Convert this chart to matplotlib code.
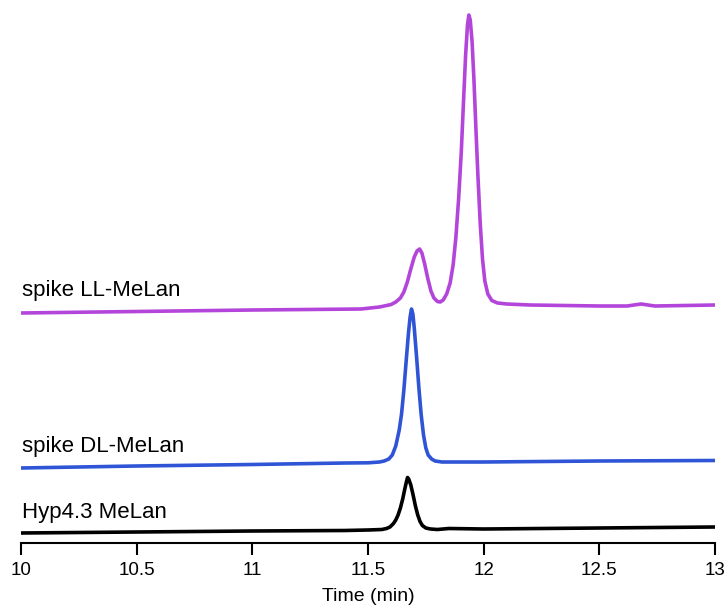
import matplotlib.pyplot as plt

plt.rcParams['font.family'] = ['Liberation Sans', 'DejaVu Sans']

# Hyp4.3 MeLan trace (time in min, detector signal in a.u.)
hyp_time = [10.0, 10.5, 11.0, 11.4, 11.5, 11.56, 11.58, 11.595, 11.61, 11.62,
            11.63, 11.64, 11.65, 11.66, 11.667, 11.671, 11.676, 11.685, 11.695,
            11.705, 11.715, 11.725, 11.735, 11.75, 11.77, 11.8, 11.85, 12.0,
            12.5, 13.0]
hyp_signal = [10, 11, 12, 12.5, 13, 13.5, 14.5, 16, 19.5, 23,
              28, 35, 44, 55, 62, 65.5, 64, 58, 48,
              37, 28, 21.5, 17.5, 15, 14, 13.5, 14.5, 14,
              15, 16]

# spike DL-MeLan trace
dl_time = [10.0, 10.5, 11.0, 11.4, 11.5, 11.55, 11.57, 11.59, 11.605, 11.62,
           11.635, 11.645, 11.655, 11.665, 11.675, 11.682, 11.688, 11.694,
           11.70, 11.71, 11.72, 11.73, 11.74, 11.75, 11.76, 11.775, 11.79,
           11.82, 11.9, 12.0, 12.5, 13.0]
dl_signal = [10, 12, 13.5, 15, 15.2, 16, 17, 19, 23, 32,
             48, 64, 88, 117, 145, 161, 169, 164,
             150, 121, 90, 63, 43, 30, 23, 19, 17,
             16, 16, 16, 17, 17.5]

# spike LL-MeLan trace
ll_time = [10.0, 10.5, 11.0, 11.47, 11.55, 11.6, 11.62, 11.64, 11.655, 11.67,
           11.685, 11.70, 11.712, 11.723, 11.733, 11.745, 11.758, 11.772,
           11.785, 11.80, 11.812, 11.825, 11.84, 11.855, 11.868, 11.88, 11.892,
           11.903, 11.913, 11.922, 11.93, 11.936, 11.942, 11.95, 11.958, 11.966,
           11.975, 11.985, 11.995, 12.005, 12.018, 12.035, 12.06, 12.1, 12.2,
           12.5, 12.62, 12.68, 12.74, 13.0]
ll_signal = [10, 11.5, 13, 14, 16, 18.5, 21, 25, 31, 41,
             54, 66, 72, 74, 70, 59, 45, 32,
             25, 21.5, 21, 23, 29, 40, 58, 86, 125,
             170, 222, 268, 298, 308, 303, 281, 243, 197,
             148, 100, 64, 42, 29, 22.5, 20, 19, 18,
             17, 17, 19, 17, 18]

# vertical stacking of the traces
offsets = {'hyp': 0, 'dl': 65, 'll': 220}

fig = plt.figure(figsize=(7.28, 6.11), dpi=100)
ax = fig.add_axes([21 / 728, 68 / 611, 694 / 728, 538 / 611])

line_kw = dict(lw=2.6, solid_joinstyle='round', solid_capstyle='round')
ax.plot(hyp_time, [v + offsets['hyp'] for v in hyp_signal], color='black', **line_kw)
ax.plot(dl_time, [v + offsets['dl'] for v in dl_signal], color='#2F55D6', **line_kw)
ax.plot(ll_time, [v + offsets['ll'] for v in ll_signal], color='#B445DA', **line_kw)

ax.text(10.005, 25, 'Hyp4.3 MeLan', fontsize=16, va='baseline')
ax.text(10.005, 91, 'spike DL-MeLan', fontsize=16, va='baseline')
ax.text(10.005, 247, 'spike LL-MeLan', fontsize=16, va='baseline')

ax.set_xlim(10, 13)
ax.set_ylim(0, 538)
ax.set_xticks([10, 10.5, 11, 11.5, 12, 12.5, 13])
ax.set_xticklabels(['10', '10.5', '11', '11.5', '12', '12.5', '13'])
ax.set_yticks([])
for side in ['top', 'right', 'left']:
    ax.spines[side].set_visible(False)
ax.spines['bottom'].set_linewidth(1.5)
ax.tick_params(axis='x', direction='out', length=8.5, width=1.5, pad=5.5,
               labelsize=13.5)
ax.set_xlabel('Time (min)', fontsize=14, labelpad=6)

fig.savefig('out.png', dpi=100)
